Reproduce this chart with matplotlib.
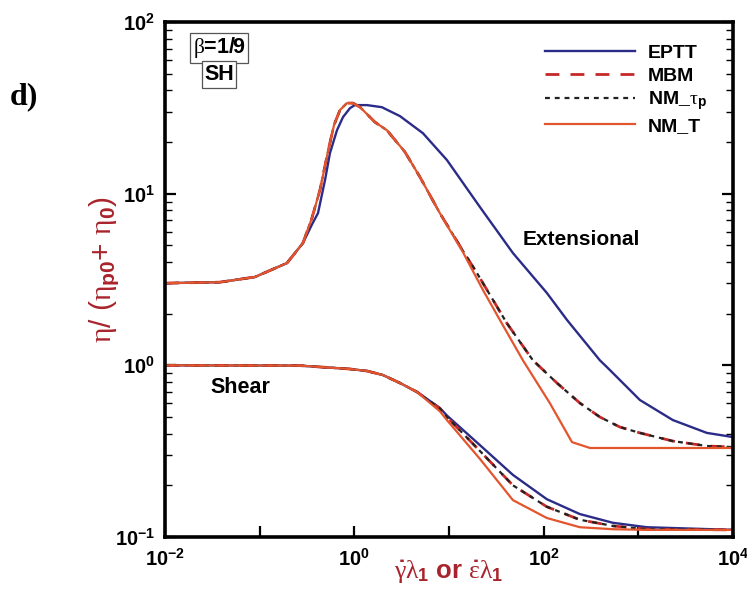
import numpy as np
import matplotlib
matplotlib.use("Agg")
import matplotlib.pyplot as plt
from matplotlib.ticker import FixedLocator, LogLocator, NullFormatter
from matplotlib.lines import Line2D

plt.rcParams['font.family'] = ['Liberation Sans', 'DejaVu Sans']
plt.rcParams['mathtext.fontset'] = 'custom'
plt.rcParams['mathtext.rm'] = 'Liberation Sans:bold'
plt.rcParams['mathtext.it'] = 'Liberation Serif'
plt.rcParams['mathtext.bf'] = 'Liberation Sans:bold'

# extensional viscosity, NM_T model
ext_nmt_x = [0.01, 0.038, 0.089, 0.194, 0.286, 0.356, 0.433, 0.53, 0.61, 0.705, 0.836, 0.967,
             1.15, 1.65, 2.21, 3.42, 4.93, 8.0, 14.0, 22.8, 34.4, 60.3, 116, 199, 308, 1e4]
ext_nmt_y = [3.01, 3.05, 3.27, 3.94, 5.15, 7.2, 10.5, 17.9, 25.1, 30.7, 33.7, 33.7,
             31.9, 26.1, 23.4, 17.5, 12.5, 7.7, 4.57, 2.75, 1.84, 1.07, 0.603, 0.357, 0.33, 0.33]

# extensional viscosity, EPTT model
ext_eptt_x = [0.01, 0.038, 0.089, 0.194, 0.286, 0.356, 0.413, 0.49, 0.552, 0.655, 0.758, 0.90,
              1.01, 1.36, 1.95, 3.03, 5.3, 9.5, 21.2, 47.3, 108, 176, 203, 392, 465, 593,
              1038, 2312, 5290, 1e4]
ext_eptt_y = [3.01, 3.05, 3.27, 3.94, 5.15, 6.6, 7.7, 12.0, 17.2, 23.4, 27.9, 31.5,
              32.8, 32.8, 31.9, 28.3, 22.5, 15.7, 8.36, 4.51, 2.64, 1.84, 1.67, 1.07, 0.977, 0.855,
              0.628, 0.48, 0.404, 0.382]

# extensional viscosity, MBM and NM_tau_p (same curve)
ext_mbm_x = [0.01, 0.038, 0.089, 0.194, 0.286, 0.356, 0.433, 0.53, 0.61, 0.705, 0.836, 0.967,
             1.15, 1.65, 2.21, 3.42, 4.93, 8.0, 14.0, 19.7, 40.8, 76.9, 138, 241, 392, 638,
             1038, 2312, 5290, 1e4]
ext_mbm_y = [3.01, 3.05, 3.27, 3.94, 5.15, 7.2, 10.5, 17.9, 25.1, 30.7, 33.7, 33.7,
             31.9, 26.1, 23.4, 17.5, 12.5, 7.7, 4.65, 3.45, 1.76, 1.07, 0.789, 0.603, 0.50, 0.437,
             0.404, 0.362, 0.339, 0.334]

# shear viscosity
sh_x = [0.01, 0.267, 0.90, 1.36, 2.0, 3.03, 4.58, 8.0, 9.5, 21.2, 47.3, 108, 241, 538, 1230, 1e4]
sh_nmt_y = [1.0, 0.996, 0.952, 0.927, 0.878, 0.789, 0.70, 0.54, 0.48, 0.285, 0.164, 0.129,
            0.114, 0.111, 0.11, 0.11]
sh_eptt_y = [1.0, 0.996, 0.952, 0.927, 0.878, 0.789, 0.70, 0.565, 0.51, 0.343, 0.23, 0.166,
             0.136, 0.121, 0.114, 0.11]
sh_mbm_y = [1.0, 0.996, 0.952, 0.927, 0.878, 0.789, 0.70, 0.56, 0.50, 0.317, 0.20, 0.15,
            0.126, 0.116, 0.111, 0.11]

c_eptt = '#2b2c88'
c_mbm = '#c62828'
c_nmtau = '#222222'
c_nmt = '#e2552d'
c_lab = '#a8242c'

fig = plt.figure(figsize=(7.47, 5.96), dpi=100)
ax = fig.add_axes([0.2209, 0.0990, 0.7604, 0.8641])

curves = [
    (ext_eptt_x, ext_eptt_y, sh_eptt_y, c_eptt, '-', 1.7),
    (ext_mbm_x, ext_mbm_y, sh_mbm_y, c_mbm, (0, (5, 4)), 2.0),
    (ext_mbm_x, ext_mbm_y, sh_mbm_y, c_nmtau, (0, (2.2, 2.2)), 1.6),
    (ext_nmt_x, ext_nmt_y, sh_nmt_y, c_nmt, '-', 1.6),
]
for xe, y_e, y_s, col, ls, lw in curves:
    ax.plot(xe, y_e, color=col, linestyle=ls, lw=lw)
    ax.plot(sh_x, y_s, color=col, linestyle=ls, lw=lw)

ax.set_xscale('log')
ax.set_yscale('log')
ax.set_xlim(1e-2, 1e4)
ax.set_ylim(1e-1, 1e2)

xt = [1e-2, 1e-1, 1e0, 1e1, 1e2, 1e3, 1e4]
xl = [r'$\mathrm{10^{-2}}$', '', r'$\mathrm{10^{0}}$', '', r'$\mathrm{10^{2}}$', '', r'$\mathrm{10^{4}}$']
ax.xaxis.set_major_locator(FixedLocator(xt))
ax.set_xticklabels(xl)
ax.xaxis.set_minor_locator(FixedLocator([]))

yt = [1e-1, 1e0, 1e1, 1e2]
ax.yaxis.set_major_locator(FixedLocator(yt))
ax.set_yticklabels([r'$\mathrm{10^{-1}}$', r'$\mathrm{10^{0}}$', r'$\mathrm{10^{1}}$', r'$\mathrm{10^{2}}$'])
ax.yaxis.set_minor_locator(LogLocator(base=10, subs=np.arange(2, 10), numticks=20))
ax.yaxis.set_minor_formatter(NullFormatter())

ax.tick_params(which='both', direction='in', labelsize=14.5, width=1.6)
ax.tick_params(axis='y', which='both', right=True)
ax.tick_params(which='major', length=8)
ax.tick_params(which='minor', length=5, width=1.0)
ax.tick_params(axis='x', pad=8)
ax.tick_params(axis='y', pad=7)
for s in ax.spines.values():
    s.set_linewidth(2.6)

ax.set_ylabel(r'$\eta$/ ($\eta_{\mathrm{p0}}$+ $\eta_{\mathrm{0}}$)', fontsize=21.5, color=c_lab)
ax.yaxis.set_label_coords(-0.076, 0.52)
ax.set_xlabel(r'$\dot{\gamma}\lambda_{\mathrm{1}}$ or $\dot{\varepsilon}\lambda_{\mathrm{1}}$',
              fontsize=18.5, color=c_lab, fontweight='bold')
ax.xaxis.set_label_coords(0.499, -0.040)

ax.text(0.630, 0.577, 'Extensional', transform=ax.transAxes, fontsize=15, fontweight='bold',
        va='center')
ax.text(0.080, 0.291, 'Shear', transform=ax.transAxes, fontsize=15.5, fontweight='bold',
        va='center')

box = dict(boxstyle='square,pad=0.12', fc='white', ec='#555555', lw=0.9)
ax.text(0.095, 0.95, r'$\beta$=1/9', transform=ax.transAxes, fontsize=15.5, fontweight='bold',
        ha='center', va='center', bbox=box)
ax.text(0.095, 0.898, 'SH', transform=ax.transAxes, fontsize=15.5, fontweight='bold',
        ha='center', va='center', bbox=box)

fig.text(0.032, 0.838, 'd)', fontsize=23, fontweight='bold', family='Liberation Serif',
         ha='center', va='center')

handles = [Line2D([], [], color=c_eptt, lw=1.7),
           Line2D([], [], color=c_mbm, lw=2.0, linestyle=(0, (5, 4))),
           Line2D([], [], color=c_nmtau, lw=1.6, linestyle=(0, (2.2, 2.2))),
           Line2D([], [], color=c_nmt, lw=1.6)]
labels = ['EPTT', 'MBM', r'NM_$\tau_{\mathrm{p}}$', 'NM_T']
leg = ax.legend(handles, labels, loc='upper right', bbox_to_anchor=(0.985, 0.99), frameon=False,
                handlelength=4.6, handletextpad=0.7, labelspacing=0.25,
                prop={'size': 14, 'weight': 'bold'})

fig.savefig('out.png', dpi=100)
